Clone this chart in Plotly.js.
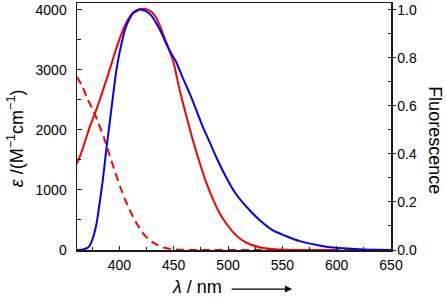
<!DOCTYPE html>
<html>
<head>
<meta charset="utf-8">
<script src="https://cdn.plot.ly/plotly-3.0.1.min.js"></script>
<style>html,body{margin:0;padding:0;background:#fff;}#chart{width:446px;height:297px;}</style>
</head>
<body>
<div id="chart"></div>
<script>
// Absorption (red solid), epsilon / M^-1 cm^-1
const absWl = [361, 365, 369, 373, 378, 382, 386, 390, 394, 398, 402, 406, 410, 414, 418, 422, 426, 430, 434, 438, 442, 446, 450, 455, 460, 465, 470, 475, 480, 486, 492, 498, 505, 512, 520, 530, 540, 550, 560, 580, 600];
const absEps = [1440, 1620, 1840, 2060, 2300, 2500, 2720, 2940, 3170, 3400, 3600, 3770, 3890, 3970, 4005, 4015, 4000, 3955, 3860, 3700, 3510, 3320, 3110, 2700, 2340, 2000, 1680, 1390, 1120, 850, 620, 450, 290, 175, 95, 42, 15, 5, 0, 0, 0];

// Second absorption (red dashed)
const abs2Wl = [361, 366, 371, 376, 381, 386, 391, 396, 401, 406, 411, 416, 421, 426, 431, 436, 441, 446, 452, 460, 480, 520, 560, 600, 620];
const abs2Eps = [2880, 2720, 2500, 2320, 2100, 1860, 1580, 1300, 1040, 810, 610, 440, 295, 195, 122, 75, 42, 20, 8, 2, 0, 0, 0, 0, 0];

// Fluorescence (blue solid), normalized
const flWl = [361, 365, 368, 371, 373, 376, 379, 382, 385, 388, 390, 393, 397, 400, 406, 412, 419, 425, 430, 435, 439, 443, 448, 452, 458, 465, 471, 477, 483, 489, 498, 507, 517, 529, 541, 555, 566, 582, 597, 621, 650];
const flInt = [0, 0.001, 0.004, 0.01, 0.021, 0.055, 0.11, 0.2, 0.3, 0.42, 0.49, 0.6, 0.74, 0.817, 0.928, 0.983, 1.0, 0.993, 0.972, 0.935, 0.9, 0.86, 0.815, 0.785, 0.72, 0.648, 0.58, 0.51, 0.45, 0.388, 0.305, 0.235, 0.18, 0.125, 0.083, 0.055, 0.037, 0.021, 0.01, 0.003, 0.0];

const xTicks = [400, 450, 500, 550, 600, 650];
const yTicks = [0, 1000, 2000, 3000, 4000];
const y2Ticks = [0, 0.2, 0.4, 0.6, 0.8, 1.0];
const y2TickText = ['0.0', '0.2', '0.4', '0.6', '0.8', '1.0'];

const FONT = 'Liberation Sans, Arial, sans-serif';

const traces = [
  {x: absWl, y: absEps, type: 'scatter', mode: 'lines', line: {color: '#ff0000', width: 2, shape: 'spline', smoothing: 0.5}, xaxis: 'x', yaxis: 'y'},
  {x: abs2Wl, y: abs2Eps, type: 'scatter', mode: 'lines', line: {color: '#ff0000', width: 2, dash: '8px,5px', shape: 'spline', smoothing: 0.5}, xaxis: 'x', yaxis: 'y'},
  {x: flWl, y: flInt, type: 'scatter', mode: 'lines', line: {color: '#0000ff', width: 2, shape: 'spline', smoothing: 0.5}, xaxis: 'x', yaxis: 'y2'}
];

const axisColor = '#1a1a1a';
const layout = {
  width: 446, height: 297,
  margin: {l: 77, r: 55, t: 3, b: 47, pad: 0},
  paper_bgcolor: '#fff', plot_bgcolor: '#fff',
  showlegend: false,
  font: {family: FONT, size: 14, color: '#000'},
  xaxis: {
    range: [361, 650], tickmode: 'array', tickvals: xTicks,
    ticks: 'inside', ticklen: 4, tickwidth: 1, tickcolor: axisColor,
    minor: {dtick: 25, tick0: 375, ticks: 'inside', ticklen: 3, tickcolor: axisColor, showgrid: false},
    showline: true, linecolor: axisColor, linewidth: 1.5, mirror: true,
    showgrid: false, zeroline: false, ticklabelstandoff: 2,
    tickfont: {family: FONT, size: 14, color: '#000'}
  },
  yaxis: {
    range: [0, 4110], tickmode: 'array', tickvals: yTicks,
    ticks: 'inside', ticklen: 5, tickwidth: 1, tickcolor: axisColor,
    minor: {dtick: 500, tick0: 0, ticks: 'inside', ticklen: 4, tickcolor: axisColor, showgrid: false},
    showline: true, linecolor: axisColor, linewidth: 1.5,
    showgrid: false, zeroline: false, ticklabelstandoff: 6,
    tickfont: {family: FONT, size: 14, color: '#000'}
  },
  yaxis2: {
    overlaying: 'y', side: 'right', anchor: 'x',
    range: [0, 1.0275], tickmode: 'array', tickvals: y2Ticks, ticktext: y2TickText,
    ticks: 'outside', ticklen: 3, tickwidth: 1, tickcolor: axisColor,
    minor: {dtick: 0.1, tick0: 0, ticks: 'inside', ticklen: 3, tickcolor: axisColor, showgrid: false},
    showline: true, linecolor: axisColor, linewidth: 1.5,
    showgrid: false, zeroline: false, ticklabelstandoff: -1,
    tickfont: {family: FONT, size: 14, color: '#000'}
  },
  annotations: [
    {text: '<i>ε</i> /(M<sup>−1</sup>cm<sup>−1</sup>)', xref: 'paper', yref: 'paper', x: -0.197, y: 0.453,
     xanchor: 'center', yanchor: 'middle', textangle: -90, showarrow: false, font: {family: FONT, size: 18, color: '#000'}},
    {text: 'Fluorescence', xref: 'paper', yref: 'paper', x: 1.140, y: 0.445,
     xanchor: 'center', yanchor: 'middle', textangle: 90, showarrow: false, font: {family: FONT, size: 18, color: '#000'}},
    {text: '<i>λ</i> / nm', xref: 'paper', yref: 'paper', x: 0.382, y: -0.150,
     xanchor: 'center', yanchor: 'middle', showarrow: false, font: {family: FONT, size: 18, color: '#000'}},
    {text: '', xref: 'paper', yref: 'paper', x: 0.685, y: -0.158, ax: -62, ay: 0,
     showarrow: true, arrowhead: 2, arrowsize: 1.1, arrowwidth: 1.3, arrowcolor: '#000', standoff: 0}
  ]
};

Plotly.newPlot('chart', traces, layout, {displayModeBar: false, staticPlot: true});
</script>
</body>
</html>
